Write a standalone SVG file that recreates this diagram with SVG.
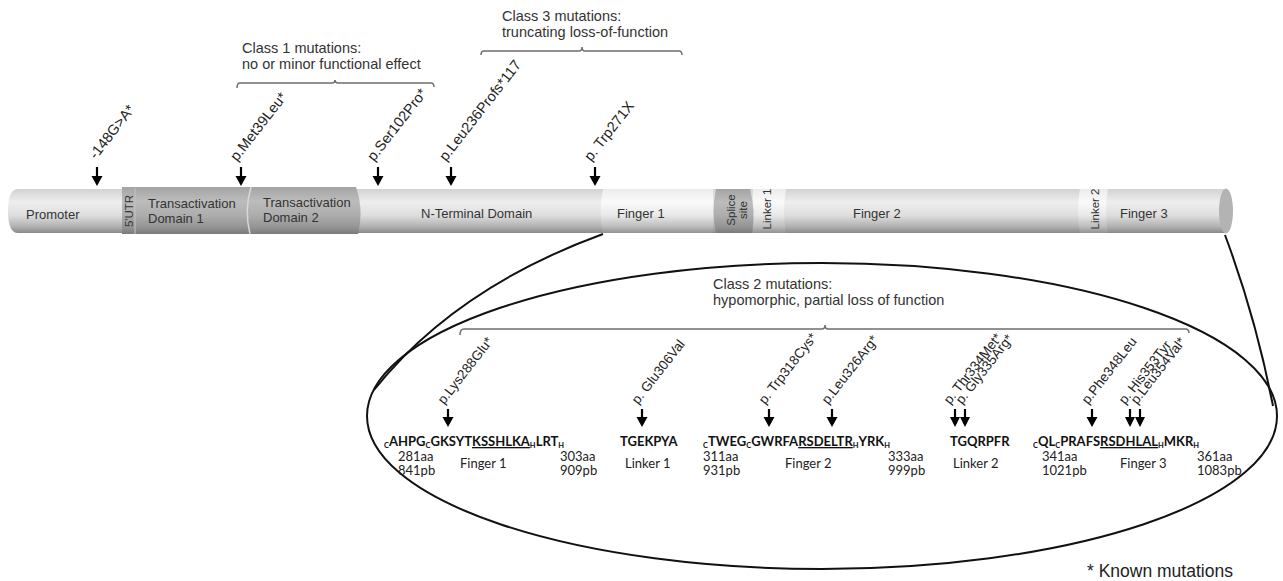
<svg xmlns="http://www.w3.org/2000/svg" width="1283" height="581" viewBox="0 0 1283 581">
<defs>
<linearGradient id="gLight" x1="0" y1="0" x2="0" y2="1">
<stop offset="0" stop-color="#d2d2d2"/><stop offset="0.3" stop-color="#eeeeee"/><stop offset="0.6" stop-color="#dedede"/><stop offset="0.85" stop-color="#b2b2b2"/><stop offset="1" stop-color="#8a8a8a"/>
</linearGradient>
<linearGradient id="gWhite" x1="0" y1="0" x2="0" y2="1">
<stop offset="0" stop-color="#ececec"/><stop offset="0.3" stop-color="#fafafa"/><stop offset="0.6" stop-color="#e8e8e8"/><stop offset="0.85" stop-color="#bdbdbd"/><stop offset="1" stop-color="#929292"/>
</linearGradient>
<linearGradient id="gDark" x1="0" y1="0" x2="0" y2="1">
<stop offset="0" stop-color="#a4a4a4"/><stop offset="0.3" stop-color="#bcbcbc"/><stop offset="0.6" stop-color="#adadad"/><stop offset="0.85" stop-color="#959595"/><stop offset="1" stop-color="#7a7a7a"/>
</linearGradient>
<style>
.t{font-family:"Liberation Sans",Arial,sans-serif;fill:#333}
.bar{font-size:13px}
.rot{font-size:11.5px}
.cls{font-size:14.5px}
.lab{font-size:14.5px;fill:#222}
.lab2{font-size:13.5px;fill:#222}
.seq{font-family:Lato,"Open Sans",sans-serif;font-weight:bold;font-size:13px;fill:#111}
.num{font-family:Lato,"Open Sans",sans-serif;font-size:13px;fill:#222}
.sub{font-size:7.5px}
.br{fill:none;stroke:#6e6e6e;stroke-width:1.5}
.ln{fill:none;stroke:#111;stroke-width:2}
.ar{stroke:#000;stroke-width:2.2}
.ah{fill:#000}
</style>
</defs>
<rect width="1283" height="581" fill="#fff"/>

<!-- Bar -->
<g id="bar">
<path d="M18,189 H1226 V233 H18 Q8,233 8,211 Q8,189 18,189 Z" fill="url(#gLight)"/>
<path d="M603,189 H713 V233 H603 Q598,211 603,189 Z" fill="url(#gWhite)"/>
<path d="M753,189 H786 Q782,211 786,233 H753 Z" fill="url(#gWhite)"/>
<path d="M1080,189 H1108 Q1104,211 1108,233 H1080 Q1076,211 1080,189 Z" fill="url(#gWhite)"/>
<ellipse cx="1226" cy="211" rx="7" ry="22.5" fill="#b3b3b3"/>
</g>
<g id="seg-utr">
<path d="M122,187 H356 Q364,210 358,234 H122 Z" fill="url(#gDark)"/>
<path d="M135,188 V234" stroke="#c4c4c4" stroke-width="1" fill="none"/>
<text class="t rot" transform="translate(133,211) rotate(-90)" text-anchor="middle">5'UTR</text>
</g>
<g id="seg-promoter"><text class="t bar" x="26" y="219">Promoter</text></g>
<g id="seg-tad1"><text class="t bar" x="148" y="208">Transactivation</text><text class="t bar" x="148" y="223">Domain 1</text></g>
<g id="seg-tad2">
<path d="M251,187 Q244,210 250,234" stroke="#d8d8d8" stroke-width="1.5" fill="none"/>
<text class="t bar" x="263" y="207">Transactivation</text><text class="t bar" x="263" y="222">Domain 2</text></g>
<g id="seg-nterm"><text class="t bar" x="421" y="218">N-Terminal Domain</text></g>
<g id="seg-finger1"><text class="t bar" x="617" y="218">Finger 1</text></g>
<g id="seg-splice">
<path d="M716,189 H750 Q756,211 752,233 H716 Q711,211 716,189 Z" fill="url(#gDark)"/>
<text class="t rot" transform="translate(735,210) rotate(-90)" text-anchor="middle">Splice</text>
<text class="t rot" transform="translate(747,210) rotate(-90)" text-anchor="middle">site</text>
</g>
<g id="seg-linker1"><text class="t rot" transform="translate(771,209) rotate(-90)" text-anchor="middle">Linker 1</text></g>
<g id="seg-finger2"><text class="t bar" x="853" y="218">Finger 2</text></g>
<g id="seg-linker2"><text class="t rot" transform="translate(1099,209) rotate(-90)" text-anchor="middle">Linker 2</text></g>
<g id="seg-finger3"><text class="t bar" x="1120" y="218">Finger 3</text></g>

<!-- Class labels -->
<g id="class1"><text class="t cls" x="242" y="53">Class 1 mutations:</text><text class="t cls" x="242" y="69">no or minor functional effect</text></g>
<g id="class3"><text class="t cls" x="502" y="21">Class 3 mutations:</text><text class="t cls" x="502" y="37">truncating loss-of-function</text></g>
<g id="class2"><text class="t cls" x="713" y="289">Class 2 mutations:</text><text class="t cls" x="713" y="305">hypomorphic, partial loss of function</text></g>

<!-- Zoom ellipse -->
<g id="zoom">
<ellipse cx="822" cy="416" rx="455" ry="153" fill="none" stroke="#111" stroke-width="2"/>
</g>

<!-- Mutation labels -->
<g id="mut-labels">
<text class="t lab" transform="translate(96,160) rotate(-52)">-148G&gt;A*</text>
<text class="t lab" transform="translate(237,162) rotate(-52)">p.Met39Leu*</text>
<text class="t lab" transform="translate(374,162) rotate(-52)">p.Ser102Pro*</text>
<text class="t lab" transform="translate(446,162) rotate(-52)">p.Leu236Profs*117</text>
<text class="t lab" transform="translate(591,162) rotate(-52)">p. Trp271X</text>
<text class="t lab2" transform="translate(444,405) rotate(-52)">p.Lys288Glu*</text>
<text class="t lab2" transform="translate(638,405) rotate(-52)">p. Glu306Val</text>
<text class="t lab2" transform="translate(765,405) rotate(-52)">p. Trp318Cys*</text>
<text class="t lab2" transform="translate(828,405) rotate(-52)">p.Leu326Arg*</text>
<text class="t lab2" transform="translate(950,405) rotate(-52)">p. Thr334Met*</text>
<text class="t lab2" transform="translate(962,405) rotate(-52)">p. Gly335Arg*</text>
<text class="t lab2" transform="translate(1088,405) rotate(-52)">p.Phe348Leu</text>
<text class="t lab2" transform="translate(1125,405) rotate(-52)">p. His353Tyr</text>
<text class="t lab2" transform="translate(1137,405) rotate(-52)">p.Leu354Val*</text>
</g>

<!-- Sequences -->
<g id="seq-finger1">
<text class="seq" x="384" y="446"><tspan class="sub" dy="2">C</tspan><tspan dy="-2">AHPG</tspan><tspan class="sub" dy="2">C</tspan><tspan dy="-2">GKSYT</tspan><tspan text-decoration="underline">KSSHLKA</tspan><tspan class="sub" dy="2">H</tspan><tspan dy="-2">LRT</tspan><tspan class="sub" dy="2">H</tspan></text>
<text class="num" x="398" y="461">281aa</text><text class="num" x="398" y="475">841pb</text>
<text class="num" x="460" y="468">Finger 1</text>
<text class="num" x="560" y="461">303aa</text><text class="num" x="560" y="475">909pb</text>
</g>
<g id="seq-linker1">
<text class="seq" x="620" y="446">TGEKPYA</text>
<text class="num" x="625" y="468">Linker 1</text>
</g>
<g id="seq-finger2">
<text class="seq" x="703" y="446"><tspan class="sub" dy="2">C</tspan><tspan dy="-2">TWEG</tspan><tspan class="sub" dy="2">C</tspan><tspan dy="-2">GWRFA</tspan><tspan text-decoration="underline">RSDELTR</tspan><tspan class="sub" dy="2">H</tspan><tspan dy="-2">YRK</tspan><tspan class="sub" dy="2">H</tspan></text>
<text class="num" x="703" y="461">311aa</text><text class="num" x="703" y="475">931pb</text>
<text class="num" x="785" y="468">Finger 2</text>
<text class="num" x="888" y="461">333aa</text><text class="num" x="888" y="475">999pb</text>
</g>
<g id="seq-linker2">
<text class="seq" x="950" y="446">TGQRPFR</text>
<text class="num" x="953" y="468">Linker 2</text>
</g>
<g id="seq-finger3">
<text class="seq" x="1033" y="446"><tspan class="sub" dy="2">C</tspan><tspan dy="-2">QL</tspan><tspan class="sub" dy="2">C</tspan><tspan dy="-2">PRAFS</tspan><tspan text-decoration="underline">RSDHLAL</tspan><tspan class="sub" dy="2">H</tspan><tspan dy="-2">MKR</tspan><tspan class="sub" dy="2">H</tspan></text>
<text class="num" x="1042" y="461">341aa</text><text class="num" x="1042" y="475">1021pb</text>
<text class="num" x="1120" y="468">Finger 3</text>
<text class="num" x="1197" y="461">361aa</text><text class="num" x="1197" y="475">1083pb</text>
</g>

<g id="legend"><text class="t" x="1087" y="577" style="font-size:17.5px;fill:#222">* Known mutations</text></g>

<!-- Connectors -->
<g id="connectors">
<path class="br" d="M237,88 Q237,83 240,83 H332 Q335,83 335,80 Q335,83 338,83 H431 Q434,83 434,87"/>
<path class="br" d="M481,55 Q481,51 484,51 H579 Q582,51 582,47 Q582,51 585,51 H679 Q682,51 682,55"/>
<path class="br" d="M460,335 Q460,329 464,329 H822 Q825,329 825,325 Q825,329 828,329 H1185 Q1189,329 1189,333"/>
<path class="ln" d="M603,234 Q455,288 374,390"/>
<path class="ln" d="M1225,235 Q1256,318 1273,406"/>
<g id="arrows">
<path class="ar" d="M97,167 V177 M241,167 V177 M378,167 V177 M451,167 V177 M595,167 V177"/>
<path class="ah" d="M91.5,176 H102.5 L97,186 Z M235.5,176 H246.5 L241,186 Z M372.5,176 H383.5 L378,186 Z M445.5,176 H456.5 L451,186 Z M589.5,176 H600.5 L595,186 Z"/>
<path class="ar" d="M448,409 V418 M642,409 V418 M769,409 V418 M832,409 V418 M955,409 V418 M965,409 V418 M1092,409 V418 M1130,409 V418 M1140,409 V418"/>
<path class="ah" d="M442.5,417 H453.5 L448,427 Z M636.5,417 H647.5 L642,427 Z M763.5,417 H774.5 L769,427 Z M826.5,417 H837.5 L832,427 Z M950,417 H960 L955,427 Z M960,417 H970 L965,427 Z M1086.5,417 H1097.5 L1092,427 Z M1125,417 H1135 L1130,427 Z M1135,417 H1145 L1140,427 Z"/>
</g>
</g>
</svg>
